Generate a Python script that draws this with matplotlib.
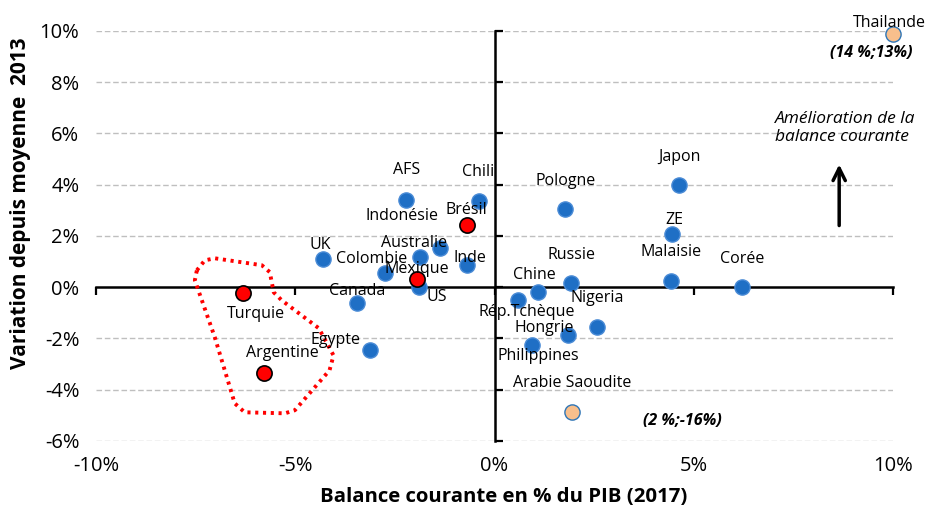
import numpy as np
import matplotlib.pyplot as plt

plt.rcParams['font.family'] = ['Open Sans', 'DejaVu Sans']

# current account balance 2017 (% GDP) and change since 2013 average
blue_names = ['Japon', 'ZE', 'Malaisie', 'Corée', 'Pologne', 'Russie', 'Chine',
              'Rép.Tchèque', 'Nigeria', 'Hongrie', 'Philippines', 'Chili', 'Inde',
              'AFS', 'Indonésie', 'Australie', 'UK', 'Colombie', 'US', 'Canada',
              'Egypte']
blue_x = [4.64, 4.46, 4.44, 6.22, 1.78, 1.93, 1.08, 0.58, 2.58, 1.85, 0.95, -0.40,
          -0.68, -2.21, -1.88, -1.38, -4.31, -2.76, -1.90, -3.46, -3.13]
blue_y = [3.98, 2.07, 0.23, 0.00, 3.05, 0.16, -0.20, -0.50, -1.56, -1.87, -2.27,
          3.36, 0.86, 3.40, 1.17, 1.52, 1.09, 0.55, 0.00, -0.62, -2.46]

red_names = ['Brésil', 'Mexique', 'Turquie', 'Argentine']
red_x = [-0.70, -1.95, -6.32, -5.79]
red_y = [2.42, 0.31, -0.23, -3.36]

# off-scale points, drawn at the edge of the chart
out_names = ['Thailande', 'Arabie Saoudite']
out_x = [10.0, 1.95]
out_y = [9.9, -4.88]
out_notes = ['(14 %;13%)', '(2 %;-16%)']

xticks = [-10, -5, 0, 5, 10]
yticks = [-6, -4, -2, 0, 2, 4, 6, 8, 10]

# dotted outline around Turquie / Argentine
zone_x = [-7.47, -7.27, -7.02, -5.84, -5.64, -5.54, -5.34, -4.41, -4.04, -4.14,
          -5.01, -5.26, -6.27, -6.52, -7.02, -7.52, -7.47]
zone_y = [0.66, 1.05, 1.13, 0.86, 0.59, -0.20, -0.51, -1.60, -2.66, -3.24,
          -4.80, -4.92, -4.88, -4.53, -1.95, 0.27, 0.66]

# label offsets in pixels (dx, dy)
label_off = {
    'Japon': (0, 28), 'ZE': (2, 14), 'Malaisie': (0, 29), 'Corée': (0, 28),
    'Pologne': (0, 28), 'Russie': (0, 28), 'Chine': (-3, 17),
    'Rép.Tchèque': (9, -12), 'Nigeria': (0, 29), 'Hongrie': (-24, 7),
    'Philippines': (6, -11), 'Chili': (0, 29), 'Inde': (3, 7), 'AFS': (0, 30),
    'Indonésie': (-18, 41), 'Australie': (-25, 5), 'UK': (-3, 14),
    'Colombie': (-13, 14), 'US': (18, -10), 'Canada': (0, 12),
    'Egypte': (-34, 10), 'Brésil': (0, 15), 'Mexique': (0, 10),
    'Turquie': (13, -21), 'Argentine': (19, 20), 'Thailande': (-4, 11),
    'Arabie Saoudite': (0, 29),
}

fig = plt.figure(figsize=(9.27, 5.09), dpi=100)
ax = fig.add_axes([0.1036, 0.1336, 0.8597, 0.8055])
ax.set_xlim(-10, 10)
ax.set_ylim(-6, 10)

for s in ax.spines.values():
    s.set_visible(False)
ax.set_xticks(xticks)
ax.set_xticklabels(['%d%%' % t for t in xticks])
ax.set_yticks(yticks)
ax.set_yticklabels(['%d%%' % t for t in yticks])
ax.tick_params(length=0, labelsize=14.5)
ax.tick_params(axis='y', pad=12)
ax.tick_params(axis='x', pad=11)
for t in yticks:
    if t != 0:
        ax.axhline(t, color='#bfbfbf', linestyle=(0, (4, 2)), linewidth=1,
                   zorder=0)

# axes crossing at zero
sx = ax.secondary_xaxis(6 / 16)
sx.set_xticks(xticks)
sx.set_xticklabels([])
sx.tick_params(direction='out', length=6, width=1.6)
for s in sx.spines.values():
    s.set_linewidth(1.8)
sy = ax.secondary_yaxis(0.5)
sy.set_yticks(yticks)
sy.set_yticklabels([])
sy.tick_params(direction='out', length=6, width=1.6)
for s in sy.spines.values():
    s.set_linewidth(1.8)

ax.set_xlabel('Balance courante en % du PIB (2017)', fontsize=14.7,
              fontweight='bold')
ax.set_ylabel('Variation depuis moyenne  2013', fontsize=15,
              fontweight='bold')
ax.xaxis.set_label_coords(0.511, -0.112)
ax.yaxis.set_label_coords(-0.081, 0.58)

ax.plot(zone_x, zone_y, color='red', linestyle=(0, (0.8, 1.2)), linewidth=2.8,
        zorder=3)

ax.scatter(blue_x, blue_y, s=120, color='#1f6fc5', edgecolors='#4a8bd6',
           linewidths=1, zorder=4, clip_on=False)
ax.scatter(red_x, red_y, s=120, color='red', edgecolors='black',
           linewidths=1.2, zorder=4, clip_on=False)
ax.scatter(out_x, out_y, s=120, color='#f8bf8c', edgecolors='#2e75b6',
           linewidths=1, zorder=4, clip_on=False)

names = blue_names + red_names + out_names
xs = blue_x + red_x + out_x
ys = blue_y + red_y + out_y
for n, x, y in zip(names, xs, ys):
    dx, dy = label_off[n]
    ax.annotate(n, (x, y), xytext=(dx, dy), textcoords='offset pixels',
                ha='center', va='center', fontsize=11.5, zorder=5,
                annotation_clip=False)

ax.annotate(out_notes[0], (out_x[0], out_y[0]), xytext=(-22, -19),
            textcoords='offset pixels', ha='center', va='center',
            fontsize=11.5, fontweight='bold', style='italic',
            annotation_clip=False)
ax.annotate(out_notes[1], (out_x[1], out_y[1]), xytext=(110, -9),
            textcoords='offset pixels', ha='center', va='center',
            fontsize=11.5, fontweight='bold', style='italic')

ax.annotate('', xy=(8.65, 4.9), xytext=(8.65, 2.3),
            arrowprops=dict(arrowstyle='->', lw=2.5, color='black',
                            mutation_scale=22))
ax.text(7.04, 6.21, 'Amélioration de la\nbalance courante', fontsize=12.5,
        style='italic', ha='left', va='center', linespacing=1.2)

fig.savefig('out.png', dpi=100)
